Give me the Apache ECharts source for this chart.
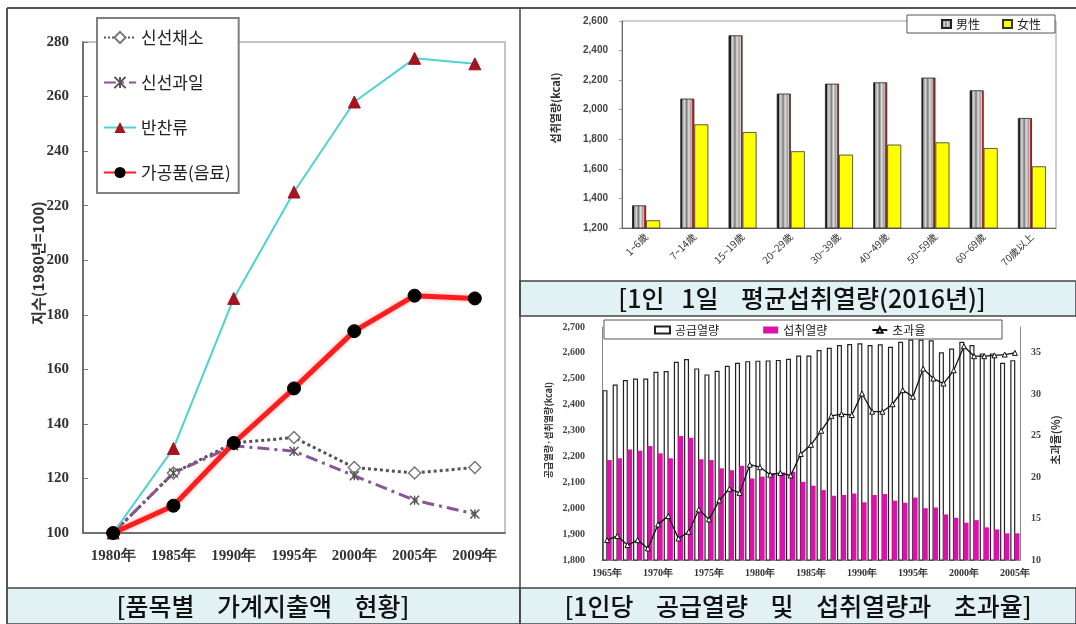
<!DOCTYPE html>
<html>
<head>
<meta charset="utf-8">
<script src="https://cdn.jsdelivr.net/npm/echarts@6/dist/echarts.min.js"></script>
<style>
  html, body { margin: 0; padding: 0; background: #fff; }
  #chart { width: 1076px; height: 624px; }
</style>
</head>
<body>
<div id="chart"></div>
<script>
// ---- 품목별 가계지출액 지수 (1980년 = 100) ----
const spendYears = ['1980年', '1985年', '1990年', '1995年', '2000年', '2005年', '2009年'];
const freshVeg = [100, 122, 133, 135, 124, 122, 124];
const freshFruit = [100, 122, 132, 130, 121, 112, 107];
const sideDish = [100, 131, 186, 225, 258, 274, 272];
const processedFood = [100, 110, 133, 153, 174, 187, 186];

// ---- 1인 1일 평균섭취열량 (2016년) ----
const ageGroups = ['1~6歲', '7~14歲', '15~19歲', '20~29歲', '30~39歲', '40~49歲', '50~59歲', '60~69歲', '70歲以上'];
const maleKcal = [1353, 2075, 2503, 2109, 2176, 2185, 2217, 2131, 1944];
const femaleKcal = [1252, 1901, 1849, 1719, 1696, 1764, 1779, 1741, 1617];

// ---- 1인당 공급열량 / 섭취열량 / 초과율 ----
const supplyYears = [
  '1965年', '1966年', '1967年', '1968年', '1969年', '1970年', '1971年', '1972年', '1973年', '1974年',
  '1975年', '1976年', '1977年', '1978年', '1979年', '1980年', '1981年', '1982年', '1983年', '1984年',
  '1985年', '1986年', '1987年', '1988年', '1989年', '1990年', '1991年', '1992年', '1993年', '1994年',
  '1995年', '1996年', '1997年', '1998年', '1999年', '2000年', '2001年', '2002年', '2003年', '2004年',
  '2005年'
];
const supplyKcal = [
  2456, 2478, 2495, 2501, 2501, 2527, 2530, 2566, 2576, 2540,
  2517, 2531, 2550, 2562, 2568, 2570, 2571, 2573, 2577, 2590,
  2590, 2611, 2620, 2630, 2634, 2637, 2630, 2633, 2624, 2643,
  2652, 2652, 2649, 2602, 2617, 2643, 2630, 2598, 2598, 2562,
  2572
];
const intakeKcal = [
  2186, 2193, 2227, 2222, 2240, 2212, 2193, 2279, 2272, 2189,
  2186, 2154, 2147, 2164, 2115, 2122, 2135, 2138, 2141, 2102,
  2087, 2070, 2048, 2051, 2057, 2023, 2051, 2055, 2029, 2021,
  2041, 2000, 2003, 1976, 1963, 1944, 1954, 1926, 1918, 1903,
  1903
];
const excessRate = [
  12.4, 12.9, 11.8, 12.4, 11.4, 14.3, 15.3, 12.6, 13.4, 16.1,
  14.9, 17.2, 18.6, 18.1, 21.5, 21.2, 20.3, 20.5, 20.2, 22.8,
  23.9, 25.6, 27.4, 27.6, 27.5, 30.1, 27.9, 27.9, 28.8, 30.5,
  29.7, 33.1, 31.9, 31.3, 32.9, 35.8, 34.6, 34.6, 34.7, 34.8,
  35.0
];

const KR = '"Noto Sans CJK KR", sans-serif';
const SERIF = '"Liberation Serif", "DejaVu Serif", serif';
const comma = v => v.toLocaleString('en-US');

const maleFill = {
  type: 'linear', x: 0, y: 0, x2: 1, y2: 0,
  colorStops: [
    { offset: 0, color: '#1a1a1a' }, { offset: 0.14, color: '#1a1a1a' },
    { offset: 0.14, color: '#8a8a8a' }, { offset: 0.3, color: '#d8d8d8' },
    { offset: 0.45, color: '#7a7a7a' }, { offset: 0.6, color: '#e0e0e0' },
    { offset: 0.75, color: '#a0a0a0' }, { offset: 0.86, color: '#e8c8c8' },
    { offset: 0.86, color: '#c03030' }, { offset: 1, color: '#c03030' }
  ]
};

// 모든 패널을 하나의 인스턴스에 그림
const chart = echarts.init(document.getElementById('chart'), null, { renderer: 'canvas' });

const asterisk = 'path://M0,0L10,10M10,0L0,10M5,0L5,10';
const captionFont = '500 25px ' + KR;

const option = {
  animation: false,
  backgroundColor: '#fff',
  grid: [
    { left: 83, top: 42, width: 422, height: 491, show: true, borderColor: '#c4c4c4', borderWidth: 2, backgroundColor: 'transparent' },
    { left: 622, top: 21, width: 434, height: 207, show: true, borderColor: '#9a9a9a', borderWidth: 1, backgroundColor: 'transparent' },
    { left: 602, top: 327, width: 418, height: 233, show: false }
  ],
  legend: [
    {
      data: ['신선채소', '신선과일', '반찬류', '가공품(음료)'],
      orient: 'vertical', left: 97, top: 18,
      padding: [11, 8, 12, 6], itemGap: 28, itemWidth: 32, itemHeight: 14,
      textStyle: { fontSize: 17, fontFamily: KR, color: '#222' },
      borderColor: '#808080', borderWidth: 2, backgroundColor: '#fff', z: 20
    },
    {
      data: [{ name: '男性', icon: 'rect' }, { name: '女性', icon: 'rect' }],
      right: 21, top: 15, padding: [3, 14, 3, 34], itemGap: 22, itemWidth: 9, itemHeight: 8,
      textStyle: { fontSize: 12, fontFamily: KR, color: '#222' },
      borderColor: '#555', borderWidth: 1, backgroundColor: '#fff', z: 20
    },
    {
      data: [{ name: '공급열량', icon: 'rect' }, { name: '섭취열량', icon: 'rect' }, '초과율'],
      left: 650, top: 322, padding: [2, 4], itemGap: 44, itemWidth: 15, itemHeight: 7,
      textStyle: { fontSize: 12, fontFamily: KR, color: '#222' }, z: 20
    }
  ],
  xAxis: [
    {
      gridIndex: 0, type: 'category', data: spendYears, boundaryGap: true,
      axisLine: { lineStyle: { color: '#555', width: 1.5 } },
      axisTick: { inside: true, length: 5, lineStyle: { color: '#555' } },
      axisLabel: { fontFamily: SERIF, fontWeight: 'bold', fontSize: 15, color: '#333', margin: 16 }
    },
    {
      gridIndex: 1, type: 'category', data: ageGroups,
      axisLine: { lineStyle: { color: '#666' } },
      axisTick: { length: 3, lineStyle: { color: '#666' } },
      axisLabel: { rotate: 45, fontFamily: KR, fontSize: 10, color: '#333', margin: 7 }
    },
    {
      gridIndex: 2, type: 'category', data: supplyYears,
      axisLine: { lineStyle: { color: '#888' } },
      axisTick: { show: false },
      axisLabel: { interval: 4, fontFamily: SERIF, fontWeight: 'bold', fontSize: 10, color: '#333', margin: 8 }
    }
  ],
  yAxis: [
    {
      gridIndex: 0, type: 'value', min: 100, max: 280, interval: 20,
      axisLine: { show: true, lineStyle: { color: '#555', width: 1.5 } },
      axisTick: { show: true, inside: true, length: 5, lineStyle: { color: '#777' } },
      splitLine: { show: false },
      axisLabel: { fontFamily: SERIF, fontWeight: 'bold', fontSize: 15, color: '#333', margin: 14 }
    },
    {
      gridIndex: 1, type: 'value', min: 1200, max: 2600, interval: 200,
      axisLine: { show: true, lineStyle: { color: '#666' } },
      axisTick: { show: true, length: 3, lineStyle: { color: '#999' } },
      splitLine: { show: false },
      axisLabel: { formatter: comma, fontFamily: '"Liberation Sans", sans-serif', fontWeight: 'bold', fontSize: 10, color: '#444', margin: 14 }
    },
    {
      gridIndex: 2, type: 'value', min: 1800, max: 2700, interval: 100,
      axisLine: { show: true, lineStyle: { color: '#888' } },
      axisTick: { show: false },
      splitLine: { show: false },
      axisLabel: { formatter: comma, fontFamily: SERIF, fontWeight: 'bold', fontSize: 10, color: '#444', margin: 17 }
    },
    {
      gridIndex: 2, type: 'value', position: 'right', min: 10, max: 38.125, interval: 5,
      axisLine: { show: true, lineStyle: { color: '#888' } },
      axisTick: { show: false },
      splitLine: { show: false },
      axisLabel: { formatter: v => (v <= 35 ? String(v) : ''), fontFamily: SERIF, fontWeight: 'bold', fontSize: 10, color: '#444', margin: 11 }
    }
  ],
  series: [
    {
      name: '신선채소', type: 'line', xAxisIndex: 0, yAxisIndex: 0, data: freshVeg,
      lineStyle: { color: '#555', width: 3, type: 'dotted' },
      symbol: 'diamond', symbolSize: 12,
      itemStyle: { color: '#fff', borderColor: '#777', borderWidth: 1.5 }, z: 3
    },
    {
      name: '신선과일', type: 'line', xAxisIndex: 0, yAxisIndex: 0, data: freshFruit,
      lineStyle: { color: '#8a5596', width: 3, type: [12, 5, 3, 5] },
      symbol: asterisk, symbolSize: 9,
      itemStyle: { color: '#555', borderColor: '#555', borderWidth: 1.5 }, z: 3
    },
    {
      name: '반찬류', type: 'line', xAxisIndex: 0, yAxisIndex: 0, data: sideDish,
      lineStyle: { color: '#4fd2d2', width: 2 },
      symbol: 'triangle', symbolSize: 12,
      itemStyle: { color: '#a3151f', borderColor: '#a3151f' }, z: 4
    },
    {
      name: '가공품(음료)', type: 'line', xAxisIndex: 0, yAxisIndex: 0, data: processedFood,
      lineStyle: { color: '#ff1c1c', width: 5, shadowColor: 'rgba(255,60,60,0.45)', shadowBlur: 4 },
      symbol: 'circle', symbolSize: 13,
      itemStyle: { color: '#000', borderColor: '#000' }, z: 5
    },
    {
      name: '男性', type: 'bar', xAxisIndex: 1, yAxisIndex: 1, data: maleKcal,
      barWidth: 14, barGap: '0%',
      itemStyle: { color: maleFill, borderColor: '#222', borderWidth: 0.8 }
    },
    {
      name: '女性', type: 'bar', xAxisIndex: 1, yAxisIndex: 1, data: femaleKcal,
      barWidth: 14,
      itemStyle: { color: '#ffff00', borderColor: '#333', borderWidth: 0.8 }
    },
    {
      name: '공급열량', type: 'bar', xAxisIndex: 2, yAxisIndex: 2, data: supplyKcal,
      barWidth: 5, barGap: '-15%',
      itemStyle: { color: '#fff', borderColor: '#222', borderWidth: 1.2 }
    },
    {
      name: '섭취열량', type: 'bar', xAxisIndex: 2, yAxisIndex: 2, data: intakeKcal,
      barWidth: 5,
      itemStyle: { color: '#dd11aa' }
    },
    {
      name: '초과율', type: 'line', xAxisIndex: 2, yAxisIndex: 3, data: excessRate,
      lineStyle: { color: '#111', width: 1.3 },
      symbol: 'triangle', symbolSize: 5,
      itemStyle: { color: '#fff', borderColor: '#111', borderWidth: 1 }, z: 6
    }
  ],
  graphic: [
    // 패널 테두리
    { type: 'line', shape: { x1: 7, y1: 8, x2: 1076, y2: 8 }, style: { stroke: '#555', lineWidth: 2 }, z: 30 },
    { type: 'line', shape: { x1: 7, y1: 8, x2: 7, y2: 624 }, style: { stroke: '#555', lineWidth: 2 }, z: 30 },
    { type: 'line', shape: { x1: 520, y1: 8, x2: 520, y2: 624 }, style: { stroke: '#444', lineWidth: 1.5 }, z: 30 },
    // 캡션 영역
    { type: 'rect', shape: { x: 7, y: 588, width: 513, height: 36 }, style: { fill: '#e2f1f4', stroke: '#444', lineWidth: 1.5 }, z: 25 },
    { type: 'rect', shape: { x: 520, y: 281, width: 556, height: 35 }, style: { fill: '#e2f1f4', stroke: '#444', lineWidth: 1.5 }, z: 25 },
    { type: 'rect', shape: { x: 520, y: 588, width: 556, height: 36 }, style: { fill: '#e2f1f4', stroke: '#444', lineWidth: 1.5 }, z: 25 },
    { type: 'text', x: 263, y: 606, z: 31, style: { text: '[품목별    가계지출액    현황]', font: captionFont, fill: '#111', align: 'center', verticalAlign: 'middle' } },
    { type: 'text', x: 802, y: 298, z: 31, style: { text: '[1인   1일    평균섭취열량(2016년)]', font: captionFont, fill: '#111', align: 'center', verticalAlign: 'middle' } },
    { type: 'text', x: 798, y: 606, z: 31, style: { text: '[1인당    공급열량    및    섭취열량과    초과율]', font: captionFont, fill: '#111', align: 'center', verticalAlign: 'middle' } },
    // 축 제목
    { type: 'text', x: 38, y: 263, rotation: Math.PI / 2, z: 31, style: { text: '지수(1980년=100)', font: 'bold 15px ' + KR, fill: '#333', align: 'center', verticalAlign: 'middle' } },
    { type: 'text', x: 556, y: 108, rotation: Math.PI / 2, z: 31, style: { text: '섭취열량(kcal)', font: 'bold 11px ' + KR, fill: '#333', align: 'center', verticalAlign: 'middle' } },
    { type: 'text', x: 549, y: 430, rotation: Math.PI / 2, z: 31, style: { text: '공급열량·섭취열량(kcal)', font: 'bold 9px ' + KR, fill: '#333', align: 'center', verticalAlign: 'middle' } },
    { type: 'text', x: 1056, y: 440, rotation: Math.PI / 2, z: 31, style: { text: '초과율(%)', font: 'bold 11px ' + KR, fill: '#333', align: 'center', verticalAlign: 'middle' } },
    // 하단 우측 범례 테두리
    { type: 'rect', shape: { x: 604, y: 320, width: 398, height: 19 }, style: { fill: '#fff', stroke: '#555', lineWidth: 1 }, z: 10 }
  ]
};

chart.setOption(option);
</script>
</body>
</html>
